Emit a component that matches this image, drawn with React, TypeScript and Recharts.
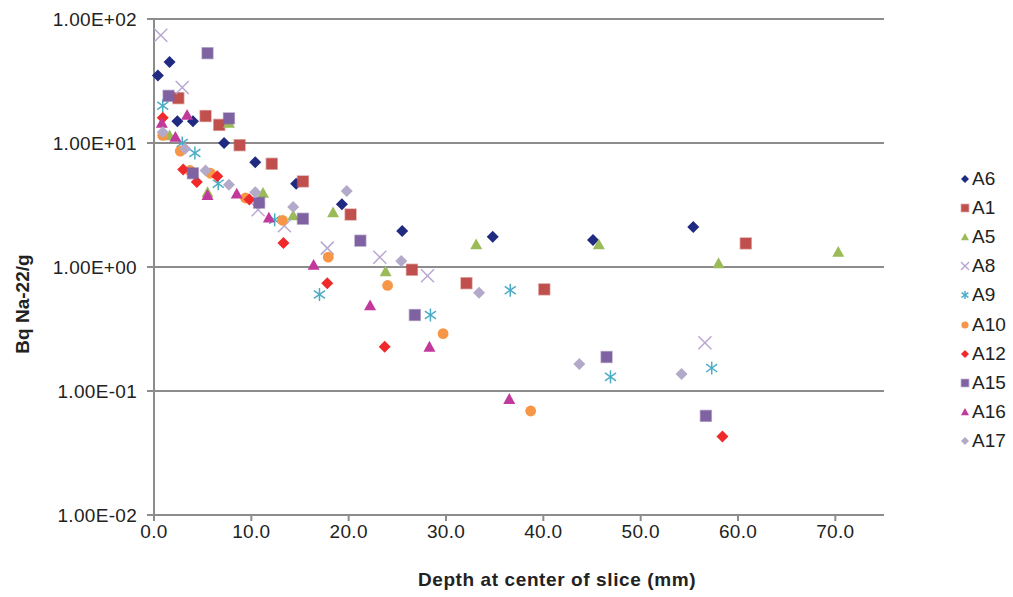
import React from 'react';
import { ScatterChart, Scatter, XAxis, YAxis, CartesianGrid } from 'recharts';

type Pt = { x: number; y: number };
const pts = (arr: number[][]): Pt[] => arr.map(([x, y]) => ({ x, y }));

// values (depth mm, Bq/g)
const A6 = pts([[0.4, 35], [1.6, 45], [2.4, 15], [4.0, 15], [7.2, 10], [10.4, 7.0], [14.6, 4.7], [19.3, 3.2], [25.5, 1.95], [34.8, 1.75], [45.1, 1.65], [55.4, 2.1]]);
const A1 = pts([[2.5, 23], [5.3, 16.5], [6.7, 14], [8.8, 9.6], [12.1, 6.8], [15.3, 4.9], [20.2, 2.65], [26.5, 0.95], [32.1, 0.74], [40.1, 0.66], [60.8, 1.55]]);
const A5 = pts([[1.6, 11.5], [5.5, 4.0], [7.7, 14.5], [11.2, 3.95], [14.3, 2.6], [18.4, 2.75], [23.8, 0.92], [33.1, 1.52], [45.7, 1.52], [58.0, 1.07], [70.3, 1.32]]);
const A8 = pts([[0.7, 74], [2.9, 28], [10.7, 2.9], [13.4, 2.15], [17.8, 1.42], [23.2, 1.2], [28.1, 0.85], [56.6, 0.245]]);
const A9 = pts([[0.9, 20], [2.9, 10], [4.2, 8.3], [6.6, 4.7], [12.4, 2.4], [17.0, 0.6], [28.4, 0.41], [36.6, 0.65], [46.9, 0.13], [57.3, 0.153]]);
const A10 = pts([[0.9, 11.5], [2.7, 8.6], [3.7, 6.0], [5.8, 5.7], [9.4, 3.6], [13.2, 2.38], [17.9, 1.2], [24.0, 0.71], [29.7, 0.29], [38.7, 0.069]]);
const A12 = pts([[0.9, 16], [3.0, 6.1], [4.4, 4.85], [6.5, 5.4], [9.8, 3.5], [13.3, 1.56], [17.8, 0.74], [23.7, 0.227], [58.4, 0.043]]);
const A15 = pts([[5.5, 53], [1.5, 24], [7.7, 15.8], [4.0, 5.7], [10.8, 3.3], [15.3, 2.45], [21.2, 1.63], [26.8, 0.41], [46.5, 0.188], [56.7, 0.063]]);
const A16 = pts([[0.8, 14.5], [3.4, 16.8], [2.2, 11.2], [5.5, 3.8], [8.5, 3.9], [11.8, 2.5], [16.4, 1.04], [22.2, 0.49], [28.3, 0.227], [36.5, 0.086]]);
const A17 = pts([[0.9, 12.2], [3.2, 9.0], [5.3, 6.0], [7.7, 4.6], [10.4, 4.0], [14.3, 3.05], [19.8, 4.1], [25.4, 1.12], [33.4, 0.62], [43.7, 0.165], [54.2, 0.137]]);

const X_TICKS = [0, 10, 20, 30, 40, 50, 60, 70];
const Y_TICKS = [0.01, 0.1, 1, 10, 100];

const SERIES = [
  { name: 'A6', data: A6, kind: 'diamond', color: '#1f2a80' },
  { name: 'A1', data: A1, kind: 'square', color: '#c0504d' },
  { name: 'A5', data: A5, kind: 'triangle', color: '#9bbb59' },
  { name: 'A8', data: A8, kind: 'x', color: '#b9a7d1' },
  { name: 'A9', data: A9, kind: 'star', color: '#4bacc6' },
  { name: 'A10', data: A10, kind: 'circle', color: '#f79646' },
  { name: 'A12', data: A12, kind: 'diamond', color: '#f02a2a' },
  { name: 'A15', data: A15, kind: 'square', color: '#7f62a1' },
  { name: 'A16', data: A16, kind: 'triangle', color: '#c2399c' },
  { name: 'A17', data: A17, kind: 'diamond', color: '#b3a9c9' },
];

const FONT = 'Liberation Sans, Arial, sans-serif';
const GRID = '#8c8c8c';

const Marker = ({ kind, color, cx, cy, s }: any) => {
  const h = s / 2;
  switch (kind) {
    case 'diamond':
      return <polygon points={`${cx},${cy - h} ${cx + h},${cy} ${cx},${cy + h} ${cx - h},${cy}`} fill={color} />;
    case 'square':
      return <rect x={cx - h * 0.9} y={cy - h * 0.9} width={s * 0.9} height={s * 0.9} fill={color} stroke={color} strokeOpacity={0.5} strokeWidth={1.5} />;
    case 'triangle':
      return <polygon points={`${cx},${cy - h} ${cx + h},${cy + h * 0.8} ${cx - h},${cy + h * 0.8}`} fill={color} />;
    case 'circle':
      return <circle cx={cx} cy={cy} r={h * 0.9} fill={color} />;
    case 'x':
      return (
        <g stroke={color} strokeWidth={1.5}>
          <line x1={cx - h} y1={cy - h} x2={cx + h} y2={cy + h} />
          <line x1={cx - h} y1={cy + h} x2={cx + h} y2={cy - h} />
        </g>
      );
    default:
      return (
        <g stroke={color} strokeWidth={1.5}>
          <line x1={cx} y1={cy - h} x2={cx} y2={cy + h} />
          <line x1={cx - h * 0.85} y1={cy - h * 0.6} x2={cx + h * 0.85} y2={cy + h * 0.6} />
          <line x1={cx - h * 0.85} y1={cy + h * 0.6} x2={cx + h * 0.85} y2={cy - h * 0.6} />
        </g>
      );
  }
};

const fmtExp = (v: number) => {
  const e = Math.round(Math.log10(v));
  return `1.00E${e < 0 ? '-' : '+'}${String(Math.abs(e)).padStart(2, '0')}`;
};

const tickStyle = { fill: '#222', fontSize: 19, fontFamily: FONT, letterSpacing: 0.3 };

export default function App() {
  return (
    <div style={{ position: 'absolute', left: 0, top: 0, width: 1013, height: 597, background: '#fff' }}>
      <ScatterChart width={1013} height={597} margin={{ top: 19, right: 129, bottom: 22, left: 0 }}>
        <CartesianGrid vertical={false} stroke={GRID} strokeWidth={2} />
        <XAxis
          dataKey="x"
          type="number"
          domain={[0, 75]}
          ticks={X_TICKS}
          tickFormatter={(v: number) => v.toFixed(1)}
          height={60}
          stroke={GRID}
          strokeWidth={2}
          tickSize={6}
          tickMargin={4}
          tick={tickStyle}
          label={{
            content: () => (
              <text x={557} y={586} textAnchor="middle" fontFamily={FONT} fontSize={19} letterSpacing={0.6} fontWeight="bold" fill="#222">
                Depth at center of slice (mm)
              </text>
            ),
          }}
        />
        <YAxis
          dataKey="y"
          type="number"
          scale="log"
          domain={[0.01, 100]}
          allowDataOverflow
          ticks={Y_TICKS}
          tickFormatter={fmtExp}
          width={154}
          stroke={GRID}
          strokeWidth={2}
          tickSize={7}
          tickMargin={10}
          tick={tickStyle}
          label={{
            content: () => (
              <text x={29} y={304} transform="rotate(-90,29,304)" textAnchor="middle" fontFamily={FONT} fontSize={19} fontWeight="bold" fill="#222">
                Bq Na-22/g
              </text>
            ),
          }}
        />
        {SERIES.map(s => (
          <Scatter
            key={s.name}
            name={s.name}
            data={s.data}
            fill={s.color}
            isAnimationActive={false}
            shape={(p: any) => <Marker kind={s.kind} color={s.color} cx={p.cx} cy={p.cy} s={s.kind === 'x' || s.kind === 'star' ? 13 : 12} />}
          />
        ))}
      </ScatterChart>
      <div style={{ position: 'absolute', left: 960, top: 164, fontFamily: FONT, fontSize: 19, color: '#222' }}>
        {SERIES.map(s => (
          <div key={s.name} style={{ display: 'flex', alignItems: 'center', height: 29.2 }}>
            <svg width={11} height={10} style={{ marginRight: 1 }}>
              <Marker kind={s.kind} color={s.color} cx={5} cy={5} s={8} />
            </svg>
            <span>{s.name}</span>
          </div>
        ))}
      </div>
    </div>
  );
}
